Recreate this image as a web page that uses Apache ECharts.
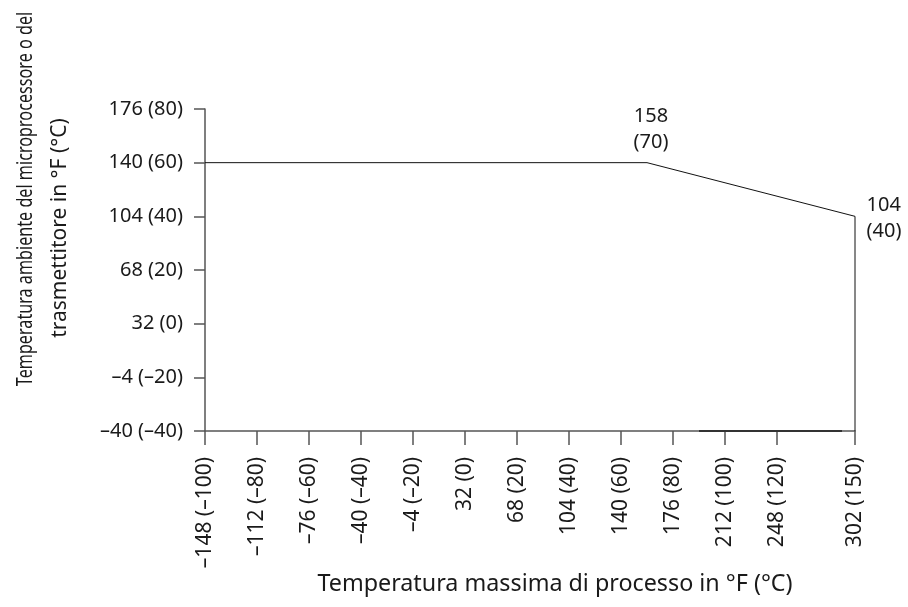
<!DOCTYPE html>
<html><head><meta charset="utf-8">
<script src="https://cdn.jsdelivr.net/npm/echarts@6/dist/echarts.min.js"></script>
<style>html,body{margin:0;padding:0;background:#fff}#c{width:908px;height:607px}</style>
</head><body><div id="c"></div>
<script>
var xTicksC = [-100, -80, -60, -40, -20, 0, 20, 40, 60, 80, 100, 120, 150];
var xTicksF = ['–148', '–112', '–76', '–40', '–4', '32', '68', '104', '140', '176', '212', '248', '302'];
var yTicksC = [-40, -20, 0, 20, 40, 60, 80];
var yTicksF = ['–40', '–4', '32', '68', '104', '140', '176'];
var limitX = [-100, 70, 150, 150];
var limitY = [60, 60, 40, -40];
var limitLabels = ['', '158\n(70)', '104\n(40)', ''];
var baseX = [90, 145];
var baseY = [-40, -40];

function fmtC(v){ return v < 0 ? '–' + Math.abs(v) : String(v); }
function labelFor(v, cs, fs){ var i = cs.indexOf(v); return i < 0 ? '' : fs[i] + ' (' + fmtC(v) + ')'; }

var font = 'Noto Sans';
var txt = '#1a1a1a';
var chart = echarts.init(document.getElementById('c'));
chart.setOption({
  animation: false,
  backgroundColor: '#fff',
  grid: { left: 205, right: 53, top: 109, bottom: 176, containLabel: false },
  xAxis: {
    type: 'value', min: -100, max: 150,
    axisLine: { show: true, onZero: false, lineStyle: { color: '#555', width: 1.5 } },
    axisTick: { show: true, length: 14, customValues: xTicksC, lineStyle: { color: '#555', width: 1.5 } },
    axisLabel: { customValues: xTicksC, rotate: 90, margin: 26, color: txt, fontFamily: font, fontSize: 21,
      formatter: function(v){ return labelFor(v, xTicksC, xTicksF); } },
    splitLine: { show: false }
  },
  yAxis: {
    type: 'value', min: -40, max: 80, interval: 20,
    axisLine: { show: true, onZero: false, lineStyle: { color: '#555', width: 1.5 } },
    axisTick: { show: true, length: 11, lineStyle: { color: '#555', width: 1.5 } },
    axisLabel: { margin: 22, color: txt, fontFamily: font, fontSize: 20,
      formatter: function(v){ return labelFor(v, yTicksC, yTicksF); } },
    splitLine: { show: false }
  },
  graphic: [
    { type: 'group', x: 26, y: 199, rotation: Math.PI/2, children: [
      { type: 'text', x: 0, y: 0, scaleX: 0.77, style: { text: 'Temperatura ambiente del microprocessore o del', fontFamily: font, fontSize: 21, fill: txt, align: 'center', verticalAlign: 'middle' } }
    ] },
    { type: 'text', x: 60, y: 228, rotation: Math.PI/2, style: { text: 'trasmettitore in °F (°C)', fontFamily: font, fontSize: 21, fill: txt, align: 'center', verticalAlign: 'middle' } },
    { type: 'text', x: 555, y: 584, style: { text: 'Temperatura massima di processo in °F (°C)', fontFamily: font, fontSize: 23.3, fill: txt, align: 'center', verticalAlign: 'middle' } }
  ],
  series: [
    { type: 'line', data: limitX.map(function(x,i){ return [x, limitY[i]]; }), symbol: 'circle', symbolSize: 1, showSymbol: true, silent: true,
      itemStyle: { color: 'rgba(0,0,0,0)', borderWidth: 0 },
      lineStyle: { color: '#111', width: 1 },
      label: { show: true, fontFamily: font, fontSize: 20, color: txt, lineHeight: 26,
        formatter: function(p){ return limitLabels[p.dataIndex]; },
        position: 'top', distance: 7 },
      labelLayout: function(p){
        if (p.dataIndex === 2) { return { x: p.rect.x + 12, y: p.rect.y + 2, align: 'left', verticalAlign: 'middle' }; }
        if (p.dataIndex === 1) { return { dx: 4 }; }
        return {};
      }
    },
    { type: 'line', data: baseX.map(function(x,i){ return [x, baseY[i]]; }), symbol: 'none', silent: true,
      lineStyle: { color: '#333', width: 2 } }
  ]
});
</script></body></html>
